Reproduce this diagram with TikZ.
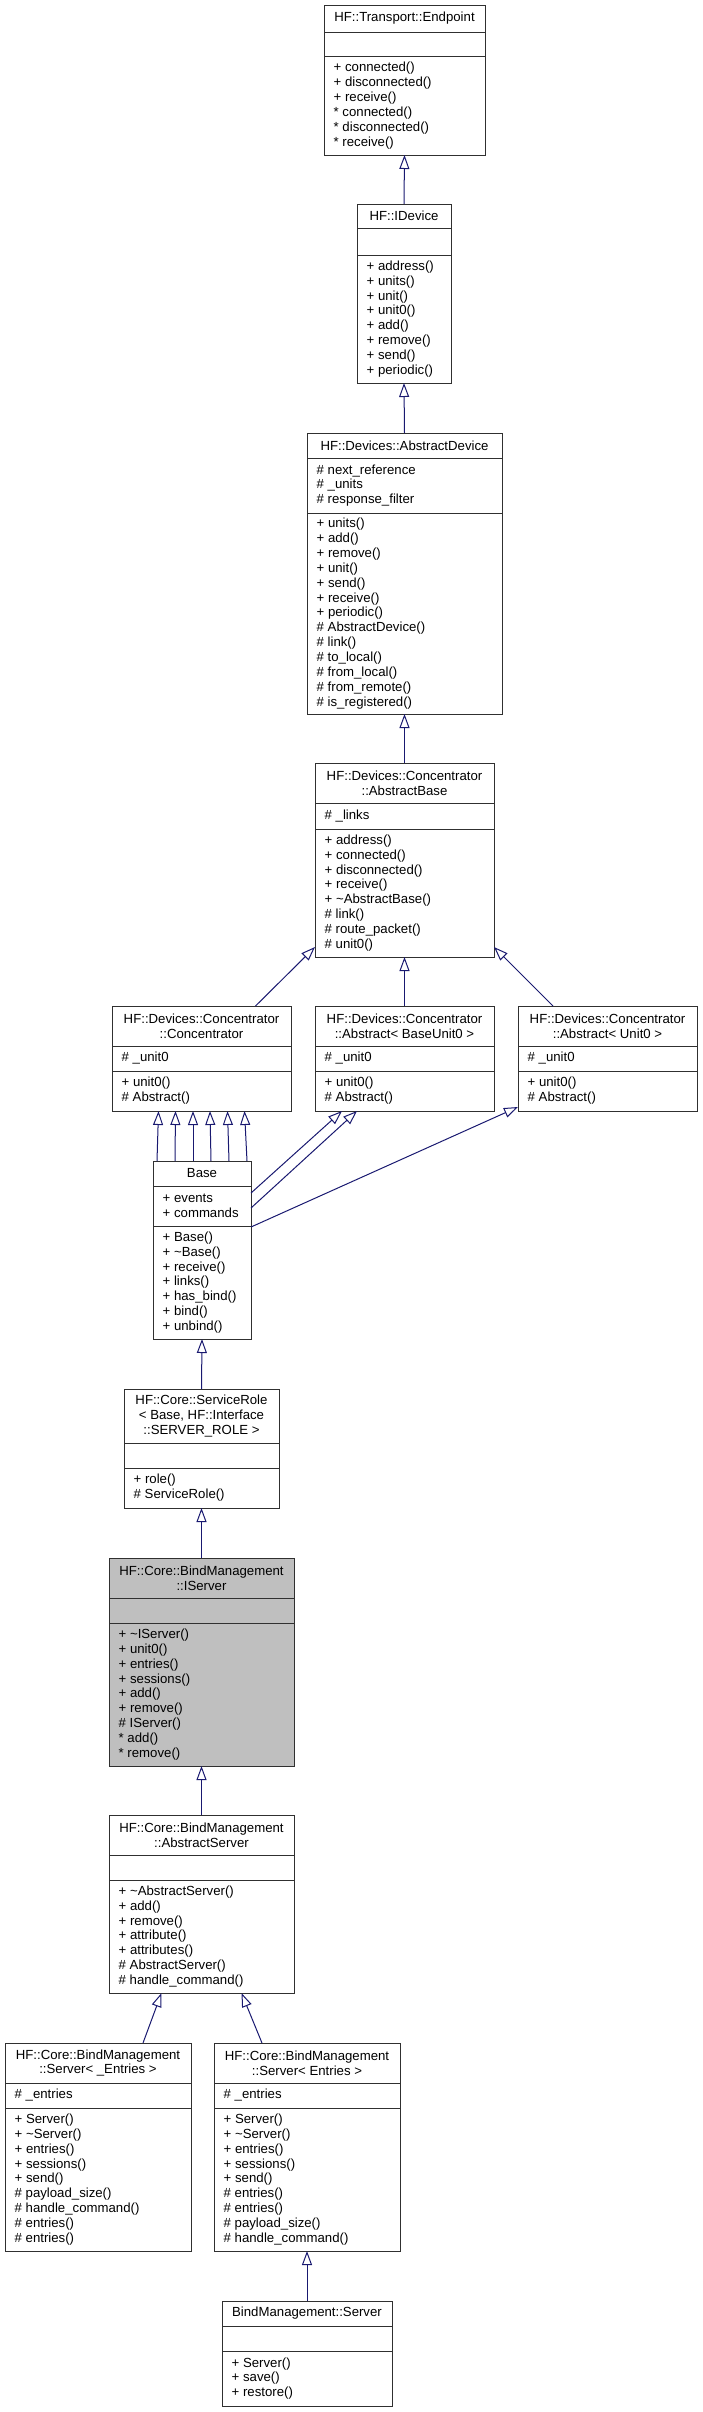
\documentclass[tikz,border=0pt]{standalone}
\usepackage{fontspec}
\setmainfont{Liberation Sans}
\usetikzlibrary{arrows.meta,calc}
\definecolor{edgeblue}{HTML}{191970}
\definecolor{boxline}{HTML}{303030}
\definecolor{focusgray}{HTML}{BFBFBF}
\tikzset{
  clsbox/.style={draw=boxline, line width=1pt, inner sep=0pt, outer sep=0pt},
  sepline/.style={draw=boxline, line width=1pt},
  ttl/.style={align=center, inner sep=0pt, font=\fontsize{13.2}{14.9}\selectfont},
  mem/.style={anchor=west, align=left, inner sep=0pt, font=\fontsize{13.2}{14.9}\selectfont},
  inh/.style={draw=edgeblue, line width=1pt, {Triangle[open,length=14pt,width=10pt,fill=white]}-},
}
% #1 fill, #2 name, #3 left, #4 top, #5 right, #6 sep1, #7 sep2, #8 bottom, #9 title
\newcommand\cls[9][white]{%
  \node[clsbox, fill=#1, minimum width={(#5-#3)*1pt}, minimum height={(#8-#4)*1pt}, anchor=north west] (#2) at (#3,#4) {};
  \draw[sepline] (#3,#6) -- (#5,#6) (#3,#7) -- (#5,#7);
  \node[ttl] (#2-t) at ({(#3+#5)/2},{(#4+#6)/2}) {#9};
  \coordinate (#2-a) at ({#3+9.5},{(#6+#7)/2});
  \coordinate (#2-m) at ({#3+9.5},{(#7+#8)/2});
}
\begin{document}
\begin{tikzpicture}[x=1pt,y=-1pt]
\useasboundingbox (0,0) rectangle (702,2412);

\cls{ep}{324}{5}{485}{32}{56}{155}{HF::Transport::Endpoint}
\node[mem] (ep-m1) at (ep-m) {+ connected()\\+ disconnected()\\+ receive()\\* connected()\\* disconnected()\\* receive()};

\cls{idev}{357}{204}{451}{228}{255}{383}{HF::IDevice}
\node[mem] (idev-m1) at (idev-m) {+ address()\\+ units()\\+ unit()\\+ unit0()\\+ add()\\+ remove()\\+ send()\\+ periodic()};

\cls{adev}{307}{433}{502}{458}{513}{714}{HF::Devices::AbstractDevice}
\node[mem] (adev-a1) at (adev-a) {\# next\_reference\\\# \_units\\\# response\_filter};
\node[mem] (adev-m1) at (adev-m) {+ units()\\+ add()\\+ remove()\\+ unit()\\+ send()\\+ receive()\\+ periodic()\\\# AbstractDevice()\\\# link()\\\# to\_local()\\\# from\_local()\\\# from\_remote()\\\# is\_registered()};

\cls{abase}{315}{763}{494}{803}{829}{957}{HF::Devices::Concentrator\\::AbstractBase}
\node[mem] (abase-a1) at (abase-a) {\# \_links};
\node[mem] (abase-m1) at (abase-m) {+ address()\\+ connected()\\+ disconnected()\\+ receive()\\+ \textasciitilde AbstractBase()\\\# link()\\\# route\_packet()\\\# unit0()};

\cls{conc}{112}{1006}{291}{1046}{1071}{1111}{HF::Devices::Concentrator\\::Concentrator}
\node[mem] (conc-a1) at (conc-a) {\# \_unit0};
\node[mem] (conc-m1) at (conc-m) {+ unit0()\\\# Abstract()};

\cls{absb}{315}{1006}{494}{1046}{1071}{1111}{HF::Devices::Concentrator\\::Abstract< BaseUnit0 >}
\node[mem] (absb-a1) at (absb-a) {\# \_unit0};
\node[mem] (absb-m1) at (absb-m) {+ unit0()\\\# Abstract()};

\cls{absu}{518}{1006}{697}{1046}{1071}{1111}{HF::Devices::Concentrator\\::Abstract< Unit0 >}
\node[mem] (absu-a1) at (absu-a) {\# \_unit0};
\node[mem] (absu-m1) at (absu-m) {+ unit0()\\\# Abstract()};

\cls{base}{153}{1161}{251}{1186}{1226}{1339}{Base}
\node[mem] (base-a1) at (base-a) {+ events\\+ commands};
\node[mem] (base-m1) at (base-m) {+ Base()\\+ \textasciitilde Base()\\+ receive()\\+ links()\\+ has\_bind()\\+ bind()\\+ unbind()};

\cls{srole}{124}{1389}{279}{1443}{1468}{1508}{HF::Core::ServiceRole\\< Base, HF::Interface\\::SERVER\_ROLE >}
\node[mem] (srole-m1) at (srole-m) {+ role()\\\# ServiceRole()};

\cls[focusgray]{iserv}{109}{1558}{294}{1598}{1623}{1766}{HF::Core::BindManagement\\::IServer}
\node[mem] (iserv-m1) at (iserv-m) {+ \textasciitilde IServer()\\+ unit0()\\+ entries()\\+ sessions()\\+ add()\\+ remove()\\\# IServer()\\* add()\\* remove()};

\cls{aserv}{109}{1815}{294}{1855}{1880}{1993}{HF::Core::BindManagement\\::AbstractServer}
\node[mem] (aserv-m1) at (aserv-m) {+ \textasciitilde AbstractServer()\\+ add()\\+ remove()\\+ attribute()\\+ attributes()\\\# AbstractServer()\\\# handle\_command()};

\cls{servu}{5}{2043}{191}{2083}{2108}{2251}{HF::Core::BindManagement\\::Server< \_Entries >}
\node[mem] (servu-a1) at (servu-a) {\# \_entries};
\node[mem] (servu-m1) at (servu-m) {+ Server()\\+ \textasciitilde Server()\\+ entries()\\+ sessions()\\+ send()\\\# payload\_size()\\\# handle\_command()\\\# entries()\\\# entries()};

\cls{serve}{214}{2043}{400}{2083}{2108}{2251}{HF::Core::BindManagement\\::Server< Entries >}
\node[mem] (serve-a1) at (serve-a) {\# \_entries};
\node[mem] (serve-m1) at (serve-m) {+ Server()\\+ \textasciitilde Server()\\+ entries()\\+ sessions()\\+ send()\\\# entries()\\\# entries()\\\# payload\_size()\\\# handle\_command()};

\cls{bms}{222}{2301}{392}{2326}{2351}{2406}{BindManagement::Server}
\node[mem] (bms-m1) at (bms-m) {+ Server()\\+ save()\\+ restore()};

% inheritance edges (arrow at parent)
\draw[inh] (ep.south) -- (idev.north);
\draw[inh] (idev.south) -- (adev.north);
\draw[inh] (adev.south) -- (abase.north);
\draw[inh] ($(abase.south west)+(0,-10)$) -- ($(conc.north)+(54,0)$);
\draw[inh] (abase.south) -- (absb.north);
\draw[inh] ($(abase.south east)+(0,-10)$) -- ($(absu.north)+(-54.5,0)$);
\foreach \a/\b in {-43/-45,-26/-27,-8.5/-9,8.5/9,26/27,43/45}{
  \draw[inh] ($(conc.south)+(\a,0)$) -- ($(base.north)+(\b,0)$);
}
\draw[inh] ($(absb.south west)+(27,0)$) -- ($(base.north east)+(0,32)$);
\draw[inh] ($(absb.south west)+(42,0)$) -- ($(base.north east)+(0,47)$);
\draw[inh] ($(absu.south west)+(0,-4)$) -- ($(base.north east)+(0,66)$);
\draw[inh] (base.south) -- (srole.north);
\draw[inh] (srole.south) -- (iserv.north);
\draw[inh] (iserv.south) -- (aserv.north);
\draw[inh] ($(aserv.south)+(-40,0)$) -- ($(servu.north)+(45,0)$);
\draw[inh] ($(aserv.south)+(40,0)$) -- ($(serve.north)+(-45,0)$);
\draw[inh] (serve.south) -- (bms.north);
\end{tikzpicture}
\end{document}
